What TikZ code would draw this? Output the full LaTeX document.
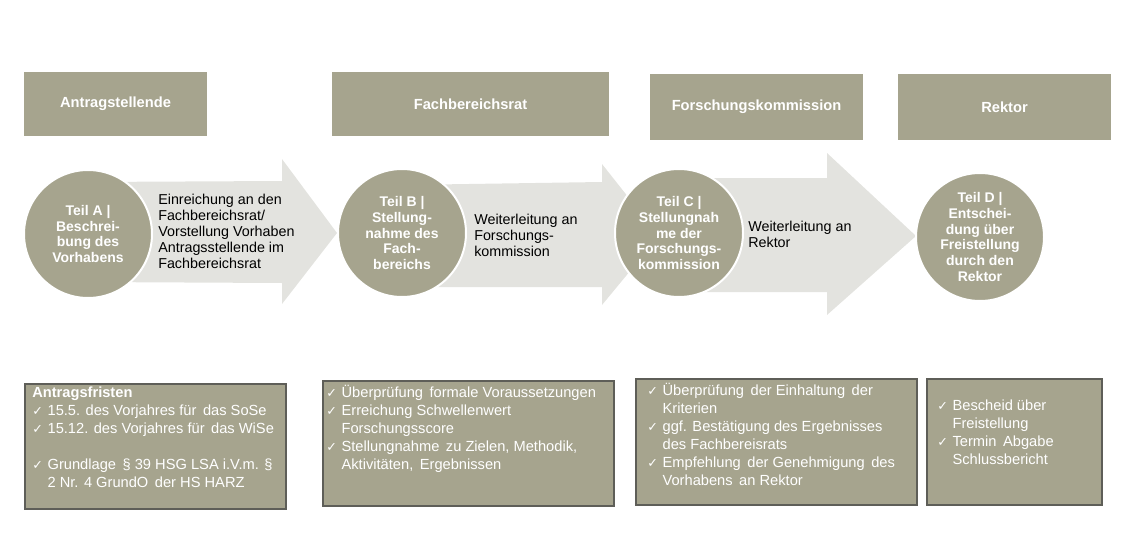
\documentclass[tikz,border=0pt]{standalone}
\usepackage{fontspec}
\setmainfont{Liberation Sans}
\newfontfamily\symfont{DejaVu Sans}
\usepackage{xcolor}
\usepackage{tikz}
\usetikzlibrary{positioning, calc, backgrounds}

\definecolor{boxolive}{HTML}{A6A48E}
\definecolor{flowgray}{HTML}{E3E3DF}
\definecolor{boxedge}{HTML}{5E5E58}

\newcommand{\chk}{\makebox[11.5pt][l]{\symfont\fontsize{9.5}{10}\selectfont ✓}}
\newcommand{\ind}{\hspace*{11.5pt}}

\begin{document}
\begin{tikzpicture}[
  x=0.75pt, y=-0.75pt,
  header/.style={fill=boxolive, minimum height=48pt, inner sep=0pt,
                 text=white, font=\fontsize{11}{13}\selectfont\bfseries},
  part/.style={circle, fill=boxolive, draw=white, line width=1.5pt,
               minimum size=96pt, inner sep=0pt, align=center, text=white,
               font=\fontsize{10.5}{11.75}\selectfont\bfseries},
  flow/.style={fill=flowgray},
  flowlbl/.style={anchor=west, inner sep=0pt, align=left,
                  font=\fontsize{10.75}{12}\selectfont},
  infobox/.style={draw=boxedge, fill=boxolive, line width=1.5pt,
                  anchor=north west, inner sep=0pt},
  infotxt/.style={anchor=north west, inner sep=0pt, align=left, text=white,
                  font=\fontsize{11}{13.5}\selectfont},
]
\useasboundingbox (0,0) rectangle (1125,546);

% roles
\node[header, minimum width=137.25pt] (hA) at (115.5,104) {Antragstellende};
\node[header, minimum width=207.75pt] (hB) at (470.5,104) {Fachbereichsrat};
\node[header, minimum width=159.75pt, minimum height=49.5pt] (hC) at (756.5,107) {Forschungskommission};
\node[header, minimum width=159.75pt, minimum height=49.5pt] (hD) at (1004.5,107) {Rektor};

% parts
\node[part] (cA) at (88,234)  {Teil A |\\Beschrei-\\bung des\\Vorhabens};
\node[part] (cB) at (402,233) {Teil B |\\Stellung-\\nahme des\\Fach-\\bereichs};
\node[part] (cC) at (679,233) {Teil C |\\Stellungnah\\me der\\Forschungs-\\kommission};
\node[part] (cD) at (980,237) {Teil D |\\Entschei-\\dung über\\Freistellung\\durch den\\Rektor};

% block arrows behind the circles
\begin{scope}[on background layer]
\fill[flow] ($(cA.center)+(0,-52)$) -- ($(cB.west)+(-55,-52)$) -- ($(cB.west)+(-55,-74)$)
  -- (cB.west) -- ($(cB.west)+(-55,71)$) -- ($(cB.west)+(-55,50)$)
  -- ($(cA.center)+(0,48)$) -- cycle;
\fill[flow] ($(cB.center)+(0,-48)$) -- ($(cC.west)+(-12,-51)$) -- ($(cC.west)+(-12,-69)$)
  -- ($(cC.west)+(45,3)$) -- ($(cC.west)+(-12,72)$) -- ($(cC.west)+(-12,54)$)
  -- ($(cB.center)+(0,54)$) -- cycle;
\fill[flow] ($(cC.center)+(0,-55)$) -- ($(cD.west)+(-88,-59)$) -- ($(cD.west)+(-88,-84)$)
  -- ($(cD.west)+(1,-1)$) -- ($(cD.west)+(-88,78)$) -- ($(cD.west)+(-88,55)$)
  -- ($(cC.center)+(0,59)$) -- cycle;
\end{scope}

\node[flowlbl] (fA) at (158,231) {Einreichung an den\\Fachbereichsrat/\\Vorstellung Vorhaben\\Antragsstellende im\\Fachbereichsrat};
\node[flowlbl] (fB) at (474,235) {Weiterleitung an\\Forschungs-\\kommission};
\node[flowlbl] (fC) at (748,234) {Weiterleitung an\\Rektor};

% info boxes
\node[infobox, minimum width=195.75pt, minimum height=93.75pt] (bA) at (24,383) {};
\node[infobox, minimum width=218.25pt, minimum height=93.75pt] (bB) at (322,380) {};
\node[infobox, minimum width=210.75pt, minimum height=94.5pt]  (bC) at (635,378) {};
\node[infobox, minimum width=131.25pt, minimum height=94.5pt]  (bD) at (926,378) {};

\node[infotxt] (tA) at ($(bA.north west)+(8,4)$) {\textbf{Antragsfristen}\\
  \chk 15.5. des Vorjahres für \,das SoSe\\
  \chk 15.12. des Vorjahres für \,das WiSe\\[13.5pt]
  \chk Grundlage \,§ 39 HSG LSA i.V.m. §\\
  \ind 2 Nr. 4 GrundO \,der HS HARZ};
\node[infotxt] (tB) at ($(bB.north west)+(4,5)$) {\chk Überprüfung \,formale Voraussetzungen\\
  \chk Erreichung Schwellenwert\\
  \ind Forschungsscore\\
  \chk Stellungnahme \,zu Zielen, Methodik,\\
  \ind Aktivitäten, \,Ergebnissen};
\node[infotxt] (tC) at ($(bC.north west)+(12,5)$) {\chk Überprüfung \,der Einhaltung \,der\\
  \ind Kriterien\\
  \chk ggf. Bestätigung des Ergebnisses\\
  \ind des Fachbereisrats\\
  \chk Empfehlung \,der Genehmigung \,des\\
  \ind Vorhabens \,an Rektor};
\node[infotxt] (tD) at ($(bD.north west)+(11,22)$) {\chk Bescheid über\\
  \ind Freistellung\\
  \chk Termin \,Abgabe\\
  \ind Schlussbericht};
\end{tikzpicture}
\end{document}
